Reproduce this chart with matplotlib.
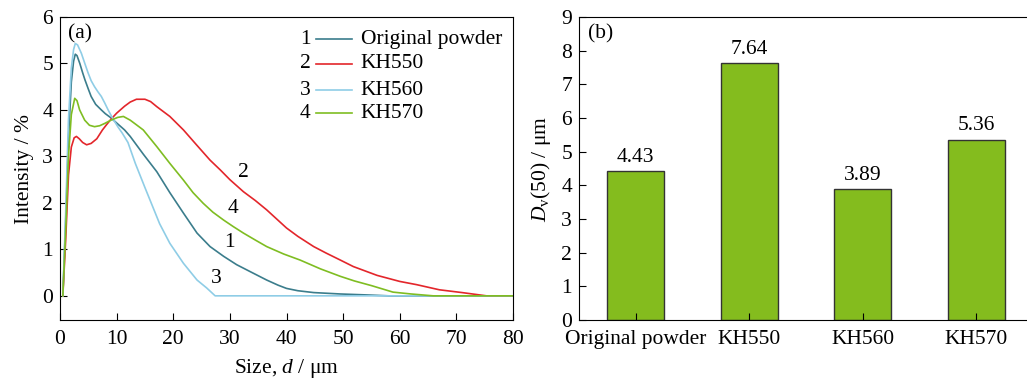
import matplotlib
matplotlib.use("Agg")
import matplotlib.pyplot as plt
from matplotlib.lines import Line2D

plt.rcParams['font.family'] = ['Liberation Serif', 'DejaVu Serif']
plt.rcParams['mathtext.fontset'] = 'custom'
plt.rcParams['mathtext.rm'] = 'Liberation Serif'
plt.rcParams['mathtext.it'] = 'Liberation Serif:italic'
FS = 15.5

# ---- data (a) ----
d_orig = [0.5, 1, 1.5, 2, 2.4, 2.7, 3, 3.5, 4, 4.4, 5, 5.5, 6.3, 7.3, 8, 9, 10, 11.4, 12.4, 14.7, 17.1, 19.4, 21.8, 24.2, 26.5, 28.9, 31.2, 33.6, 36.5, 38.5, 40, 42, 44.8, 49.5, 54, 58, 80]
i_orig = [0, 1.6, 3.4, 4.6, 5.05, 5.2, 5.17, 5.0, 4.8, 4.65, 4.45, 4.29, 4.12, 4.0, 3.92, 3.83, 3.72, 3.57, 3.43, 3.05, 2.67, 2.22, 1.78, 1.35, 1.06, 0.85, 0.67, 0.52, 0.34, 0.23, 0.16, 0.11, 0.07, 0.04, 0.02, 0, 0]

d_550 = [0.5, 1, 1.5, 2, 2.5, 2.9, 3.4, 4, 4.7, 5.5, 6.5, 7.5, 8.2, 9, 10, 11.4, 12.4, 13.5, 15, 16, 17.1, 19.4, 21.8, 24.1, 26.5, 28.3, 30, 32.4, 34.5, 36.5, 40, 42, 44.8, 47, 49.5, 51.8, 56, 60, 63, 67, 71, 75.3, 80]
i_550 = [0, 1.2, 2.6, 3.2, 3.4, 3.43, 3.38, 3.3, 3.25, 3.28, 3.38, 3.57, 3.68, 3.8, 3.93, 4.08, 4.17, 4.23, 4.23, 4.18, 4.07, 3.86, 3.57, 3.25, 2.92, 2.71, 2.5, 2.24, 2.05, 1.85, 1.46, 1.28, 1.06, 0.92, 0.77, 0.63, 0.44, 0.31, 0.24, 0.13, 0.07, 0, 0]

d_560 = [0.5, 1, 1.5, 2, 2.4, 2.7, 3.1, 3.77, 4.3, 4.95, 5.5, 6.1, 6.7, 7.3, 7.9, 8.5, 9.3, 10.2, 11, 12, 13.3, 15, 17.6, 19.4, 21.8, 24.2, 25.9, 27.4, 80]
i_560 = [0, 1.8, 3.8, 4.9, 5.3, 5.43, 5.4, 5.22, 5.03, 4.8, 4.63, 4.5, 4.39, 4.29, 4.15, 4.0, 3.82, 3.64, 3.5, 3.3, 2.85, 2.33, 1.55, 1.13, 0.70, 0.34, 0.17, 0, 0]

d_570 = [0.5, 1, 1.5, 2, 2.6, 3, 3.47, 4.36, 5.2, 6.1, 7, 7.9, 9, 10.2, 11.2, 12.4, 13.5, 14.7, 17.1, 19.4, 21.8, 23.5, 25.3, 27, 28.9, 30.6, 32.4, 34.5, 36.5, 39.5, 42.4, 46, 49.5, 52, 55, 58.8, 62, 65.9, 80]
i_570 = [0, 1.4, 3.0, 3.9, 4.25, 4.2, 4.0, 3.78, 3.67, 3.64, 3.66, 3.71, 3.78, 3.84, 3.86, 3.78, 3.68, 3.57, 3.21, 2.85, 2.49, 2.22, 1.99, 1.8, 1.63, 1.49, 1.35, 1.2, 1.06, 0.9, 0.77, 0.58, 0.42, 0.32, 0.22, 0.08, 0.04, 0, 0]

series_names = ["Original powder", "KH550", "KH560", "KH570"]
series_nums = ["1", "2", "3", "4"]
series_colors = ["#3b7d8c", "#e3262b", "#8fcde6", "#7fbd22"]

# ---- data (b) ----
bar_cats = ["Original powder", "KH550", "KH560", "KH570"]
bar_vals = [4.43, 7.64, 3.89, 5.36]

fig = plt.figure(figsize=(10.27, 3.79), dpi=100)
ax1 = fig.add_axes([60/1027, 59/379, 453/1027, 303/379])
ax2 = fig.add_axes([579/1027, 59/379, 454/1027, 303/379])

curves = [(d_orig, i_orig), (d_550, i_550), (d_560, i_560), (d_570, i_570)]
for (dx, iy), c in zip(curves, series_colors):
    ax1.plot(dx, iy, color=c, lw=1.2)

ax1.set_xlim(0, 80)
ax1.set_ylim(-0.52, 6)
ax1.set_xticks(range(0, 81, 10))
ax1.set_yticks(range(0, 7))
ax1.tick_params(direction='in', labelsize=FS, length=5, width=0.8, pad=5)
ax1.tick_params(axis='x', pad=7)
ax1.set_xlabel(r"Size, $\it{d}$ / μm", fontsize=FS, labelpad=6)
ax1.set_ylabel("Intensity / %", fontsize=FS, labelpad=6)
ax1.text(0.018, 0.975, "(a)", transform=ax1.transAxes, fontsize=FS, va='top', ha='left')

# legend (manual)
rows_y = [0.927, 0.845, 0.759, 0.683]
for num, name, c, yy in zip(series_nums, series_names, series_colors, rows_y):
    ax1.text(0.541, yy, num, transform=ax1.transAxes, fontsize=FS, ha='center', va='center')
    ax1.add_line(Line2D([0.565, 0.645], [yy, yy], transform=ax1.transAxes, color=c, lw=1.2))
    ax1.text(0.664, yy, name, transform=ax1.transAxes, fontsize=FS, ha='left', va='center')

# curve number labels
lab_pos = [(29.9, 1.14), (32.3, 2.65), (27.6, 0.37), (30.6, 1.87)]
for num, (lx, ly) in zip(series_nums, lab_pos):
    ax1.text(lx, ly, num, fontsize=FS, ha='center', va='center')

for s in ax1.spines.values():
    s.set_linewidth(0.8)

# ---- bars ----
xpos = range(len(bar_cats))
ax2.bar(xpos, bar_vals, width=0.5, color="#84bc1e", edgecolor="#333333", linewidth=1.0)
for x, v in zip(xpos, bar_vals):
    ax2.annotate(f"{v:.2f}", (x, v), xytext=(0, 3), textcoords='offset points',
                 ha='center', va='bottom', fontsize=FS)
ax2.set_xlim(-0.5, 3.5)
ax2.set_ylim(0, 9)
ax2.set_yticks(range(0, 10))
ax2.set_xticks(list(xpos))
ax2.set_xticklabels(bar_cats)
ax2.tick_params(direction='in', labelsize=FS, length=5, width=0.8, pad=5)
ax2.tick_params(axis='x', pad=7)
ax2.set_ylabel(r"$\it{D}_{\rm v}$(50) / μm", fontsize=FS, labelpad=6)
ax2.text(0.02, 0.975, "(b)", transform=ax2.transAxes, fontsize=FS, va='top', ha='left')
for s in ax2.spines.values():
    s.set_linewidth(0.8)
ax2.spines['right'].set_visible(False)

fig.savefig("out.png", dpi=100)
